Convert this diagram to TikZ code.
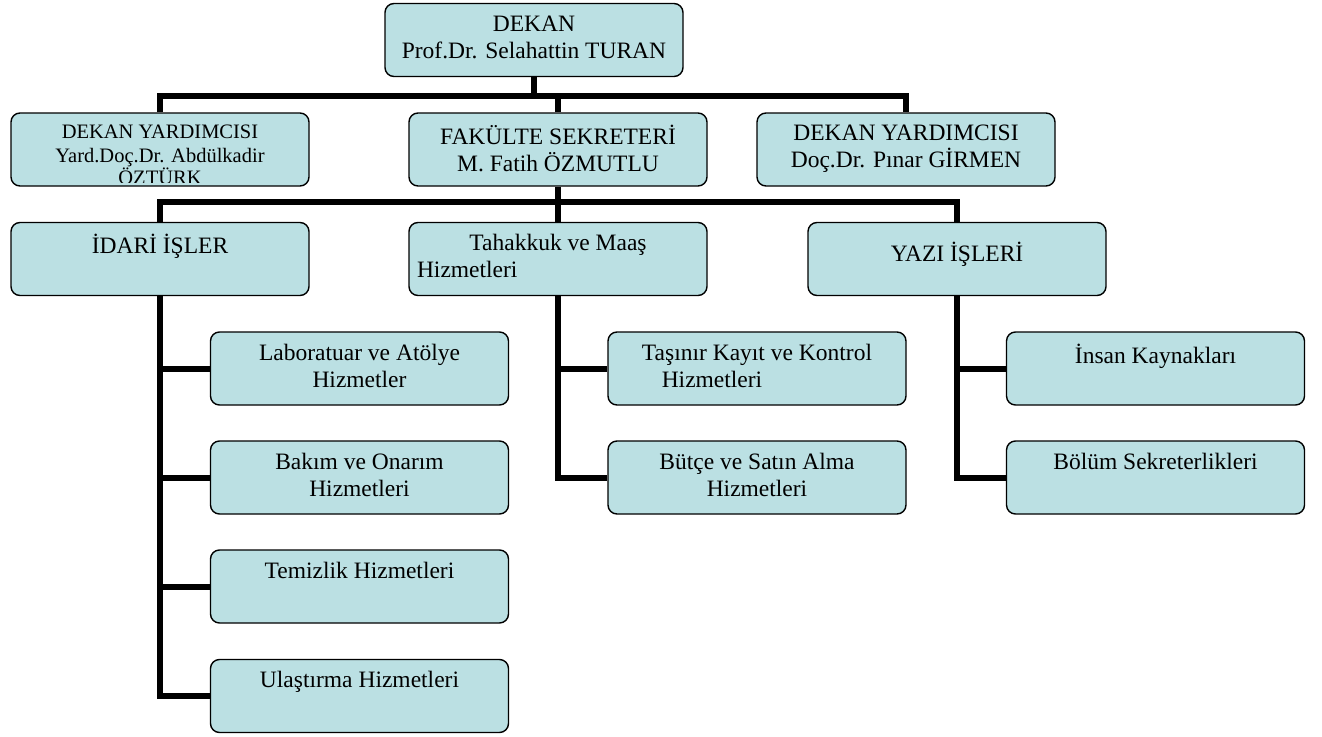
\documentclass[tikz,border=0pt]{standalone}
\usepackage{fontspec}
\setmainfont{Liberation Serif}
\definecolor{bleupale}{RGB}{187,224,227}
\begin{document}
\begin{tikzpicture}[x=1pt,y=-1pt]
% Styles
\tikzstyle{boite}=[draw=black,line width=1.4pt,fill=bleupale,rounded corners=9pt,minimum width=298pt,minimum height=73pt,inner sep=0pt,font=\fontsize{23.5}{27}\selectfont]
\tikzstyle{petite}=[font=\fontsize{20.5}{23.5}\selectfont]
\tikzstyle{lien}=[line width=6pt]
% Dimensions Modifiables
\def\Lrg{282pt}
\def\HtT{49pt}
\def\texte#1{\parbox[t][\HtT][t]{\Lrg}{\centering #1}}
% Colonnes
\def\colA{160}
\def\colB{558}
\def\colC{957}
\def\sousA{359.5}
\def\sousB{757}
\def\sousC{1155.5}
% Cadre de l'image
\useasboundingbox (0,0) rectangle (1322,736);
% Ligne du doyen
\node[boite] (dekan) at (534,40) {\texte{DEKAN\\Prof.Dr. Selahattin TURAN}};
% Ligne des adjoints
\node[boite,petite] (dyg) at (\colA,149.5) {\texte{DEKAN YARDIMCISI\\Yard.Doç.Dr. Abdülkadir}};
\node[boite] (sek) at (\colB,149.5) {\texte{FAKÜLTE SEKRETERİ\\M. Fatih ÖZMUTLU}};
\node[boite] (dyd) at (906,149.5) {\texte{DEKAN YARDIMCISI\\Doç.Dr. Pınar GİRMEN}};
\begin{scope}
\clip (dyg.north west) rectangle ([yshift=4pt]dyg.south east);
\node[petite,anchor=base] (ozturk) at ([yshift=2.5pt]dyg.south) {ÖZTÜRK};
\end{scope}
% Ligne des services
\node[boite] (idari) at (\colA,259) {\texte{İDARİ İŞLER}};
\node[boite] (tahakkuk) at (\colB,259) {\texte{Tahakkuk ve Maaş\\\makebox[\linewidth][l]{Hizmetleri}}};
\node[boite] (yazi) at (\colC,259) {\texte{\mbox{}\\YAZI İŞLERİ}};
% Sous-services
\node[boite] (lab) at (\sousA,368.5) {\texte{Laboratuar ve Atölye\\Hizmetler}};
\node[boite] (bakim) at (\sousA,477.5) {\texte{Bakım ve Onarım\\Hizmetleri}};
\node[boite] (temiz) at (\sousA,586.5) {\texte{Temizlik Hizmetleri}};
\node[boite] (ulas) at (\sousA,696) {\texte{Ulaştırma Hizmetleri}};
\node[boite] (tasinir) at (\sousB,368.5) {\texte{Taşınır Kayıt ve Kontrol\\Hizmetleri\hspace*{90pt}\mbox{}}};
\node[boite] (butce) at (\sousB,477.5) {\texte{Bütçe ve Satın Alma\\Hizmetleri}};
\node[boite] (insan) at (\sousC,368.5) {\texte{İnsan Kaynakları}};
\node[boite] (bolum) at (\sousC,477.5) {\texte{Bölüm Sekreterlikleri}};
% Liaisons
\coordinate (bus1) at (534,96);
\coordinate (bus2) at (\colB,202);
\draw[lien] (dekan.south) -- (bus1);
\draw[lien] (dyg.north) |- (bus1) -| (dyd.north);
\draw[lien] (sek.north) -- (sek.north |- bus1);
\draw[lien] (idari.north) |- (bus2) -| (yazi.north);
\draw[lien] (sek.south) -- (tahakkuk.north);
\foreach \s in {lab,bakim,temiz,ulas}
  \draw[lien] (idari.south) |- (\s.west);
\foreach \s in {tasinir,butce}
  \draw[lien] (tahakkuk.south) |- (\s.west);
\foreach \s in {insan,bolum}
  \draw[lien] (yazi.south) |- (\s.west);
\end{tikzpicture}
\end{document}
